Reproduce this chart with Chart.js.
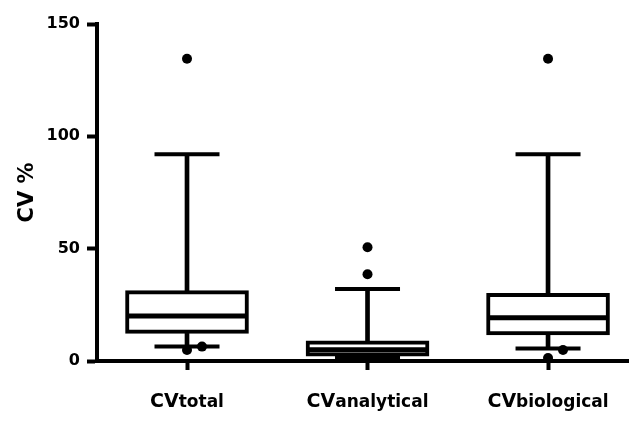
<!DOCTYPE html>
<html>
<head>
<meta charset="utf-8">
<script src="https://cdn.jsdelivr.net/npm/chart.js@4/dist/chart.umd.min.js"></script>
<style>
  html, body { margin: 0; padding: 0; background: #fff; overflow: hidden; }
  #wrap { width: 629px; height: 421px; position: relative; }
</style>
</head>
<body>
<div id="wrap"><canvas id="c"></canvas></div>
<script>
// ---- data ----
const categories  = ['CVtotal', 'CVanalytical', 'CVbiological'];
const labelMain   = ['CV', 'CV', 'CV'];
const labelSub    = ['total', 'analytical', 'biological'];
const whiskerLow  = [6.4, 1.5, 5.6];
const q1          = [12.3, 2.2, 11.6];
const median      = [20.0, 5.0, 19.3];
const q3          = [31.3, 9.0, 30.1];
const whiskerHigh = [92, 32.0, 92];
const outlierPos  = [0, 0, 0.083, 1, 1, 2, 2.083, 2];
const outlierVal  = [134.5, 4.9, 6.4, 50.6, 38.6, 134.5, 4.9, 1.3];
const yTicks      = [0, 50, 100, 150];

const idx = categories.map((_, i) => i);

const xLabelPlugin = {
  id: 'xLabels',
  afterDraw(chart) {
    const ctx = chart.ctx;
    const xs = chart.scales.x;
    ctx.save();
    ctx.fillStyle = '#000';
    ctx.textBaseline = 'alphabetic';
    ctx.textAlign = 'left';
    const baseY = xs.top + 46;
    idx.forEach(i => {
      const cx = xs.getPixelForValue(i);
      ctx.font = 'bold 19px "DejaVu Sans"';
      const w1 = ctx.measureText(labelMain[i]).width;
      ctx.font = 'bold 17px "DejaVu Sans"';
      const w2 = ctx.measureText(labelSub[i]).width;
      const start = cx - (w1 + w2) / 2;
      ctx.font = 'bold 19px "DejaVu Sans"';
      ctx.fillText(labelMain[i], start, baseY);
      ctx.font = 'bold 17px "DejaVu Sans"';
      ctx.fillText(labelSub[i], start + w1, baseY);
    });
    ctx.restore();
  }
};

new Chart(document.getElementById('c'), {
  type: 'bar',
  data: {
    datasets: [
      { type: 'bar', data: idx.map(i => ({ x: i, y: [q3[i], whiskerHigh[i]] })),
        barThickness: 4, backgroundColor: '#000', borderWidth: 0, grouped: false, order: 6, clip: false },
      { type: 'bar', data: idx.map(i => ({ x: i, y: [whiskerLow[i], q1[i]] })),
        barThickness: 4, backgroundColor: '#000', borderWidth: 0, grouped: false, order: 5, clip: false },
      { type: 'bar', data: idx.map(i => ({ x: i, y: [q1[i], q3[i]] })),
        barThickness: 123, backgroundColor: '#fff', borderColor: '#000', borderWidth: 4,
        borderSkipped: false, grouped: false, order: 4, clip: false },
      { type: 'scatter', data: idx.map(i => ({ x: i, y: median[i] })),
        pointStyle: 'line', pointRadius: 61, borderColor: '#000', borderWidth: 5, order: 3, clip: false },
      { type: 'scatter', data: idx.flatMap(i => [{ x: i, y: whiskerLow[i] }, { x: i, y: whiskerHigh[i] }]),
        pointStyle: 'line', pointRadius: 32.5, borderColor: '#000', borderWidth: 4, order: 2, clip: false },
      { type: 'scatter', data: outlierPos.map((p, k) => ({ x: p, y: outlierVal[k] })),
        pointStyle: 'circle', pointRadius: 5, backgroundColor: '#000', borderWidth: 0, order: 1, clip: false }
    ]
  },
  options: {
    responsive: true,
    maintainAspectRatio: false,
    animation: false,
    events: [],
    layout: { autoPadding: false, padding: { top: 24, right: 1, left: 0, bottom: 0 } },
    plugins: { legend: { display: false }, tooltip: { enabled: false } },
    scales: {
      x: {
        type: 'linear', min: -0.4986, max: 2.443, offset: false,
        grid: { offset: false, drawOnChartArea: false, drawTicks: true, tickLength: 9, tickWidth: 4, tickColor: '#000' },
        border: { display: true, color: '#000', width: 4 },
        ticks: { display: false },
        afterBuildTicks: s => { s.ticks = idx.map(v => ({ value: v })); },
        afterFit: s => { s.height = 60; }
      },
      y: {
        type: 'linear', min: 0, max: 150,
        grid: { drawOnChartArea: false, drawTicks: true, tickLength: 10, tickWidth: 4, tickColor: '#000' },
        border: { display: true, color: '#000', width: 4 },
        ticks: { color: '#000', padding: 7, font: { family: 'DejaVu Sans', weight: 'bold', size: 16 } },
        afterBuildTicks: s => { s.ticks = yTicks.map(v => ({ value: v })); },
        title: { display: true, text: 'CV %', color: '#000',
                 font: { family: 'DejaVu Sans', weight: 'bold', size: 21 }, padding: { top: 15, bottom: 0 } },
        afterFit: s => { s.width = 97; }
      }
    }
  },
  plugins: [xLabelPlugin]
});
</script>
</body>
</html>
